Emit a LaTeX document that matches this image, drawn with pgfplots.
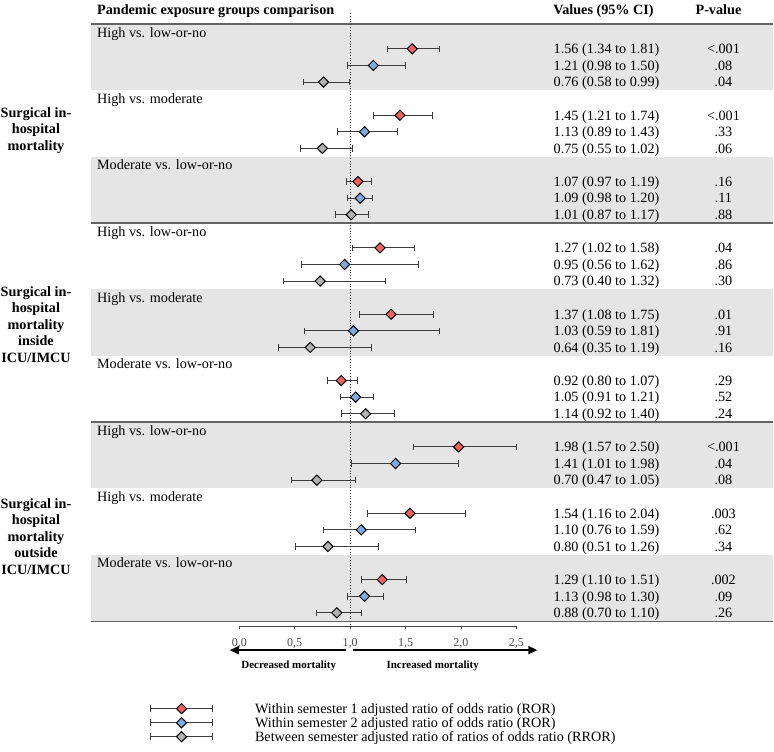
\documentclass[border=0pt]{standalone}
\usepackage{pgfplots}
\pgfplotsset{compat=1.18}
\usepackage{pgfplotstable}
\usepackage{fontspec}
\setmainfont{Liberation Serif}
\usetikzlibrary{arrows.meta}

\definecolor{bandgray}{RGB}{229,229,229}
\definecolor{rorred}{RGB}{238,98,98}
\definecolor{rorblue}{RGB}{125,172,222}
\definecolor{rrorgray}{RGB}{178,178,178}
\definecolor{whisker}{RGB}{60,60,60}
\definecolor{sepline}{RGB}{100,100,100}

% y = -(row number), rows of 16.6bp; lo/hi = 95% CI
\pgfplotstableread{
x    y    lo   hi
1.56 -1   1.34 1.81
1.45 -5   1.21 1.74
1.07 -9   0.97 1.19
1.27 -13  1.02 1.58
1.37 -17  1.08 1.75
0.92 -21  0.80 1.07
1.98 -25  1.57 2.50
1.54 -29  1.16 2.04
1.29 -33  1.10 1.51
-0.521 -40.78 -0.801 -0.242
}\semone
\pgfplotstableread{
x    y    lo   hi
1.21 -2   0.98 1.50
1.13 -6   0.89 1.43
1.09 -10  0.98 1.20
0.95 -14  0.56 1.62
1.03 -18  0.59 1.81
1.05 -22  0.91 1.21
1.41 -26  1.01 1.98
1.10 -30  0.76 1.59
1.13 -34  0.98 1.30
-0.521 -41.63 -0.801 -0.242
}\semtwo
\pgfplotstableread{
x    y    lo   hi
0.76 -3   0.58 0.99
0.75 -7   0.55 1.02
1.01 -11  0.87 1.17
0.73 -15  0.40 1.32
0.64 -19  0.35 1.19
1.14 -23  0.92 1.40
0.70 -27  0.47 1.05
0.80 -31  0.51 1.26
0.88 -35  0.70 1.10
-0.521 -42.47 -0.801 -0.242
}\between

\tikzset{
  txt/.style={font=\fontsize{14.2bp}{16.5bp}\selectfont, inner sep=0pt, anchor=base, yshift=-4.8bp},
  lab/.style={txt, anchor=base west},
  hdr/.style={txt, font=\fontsize{14.2bp}{16.5bp}\selectfont\bfseries},
  sec/.style={font=\fontsize{14.2bp}{16.5bp}\selectfont\bfseries, align=center, inner sep=0pt},
}
\newcommand{\vrow}[3]{%
  \node[txt] at (axis cs:3.314,-#1) {#2};
  \node[txt] at (axis cs:4.369,-#1) {#3};}

\pgfplotsset{
  forest/.style={only marks, mark=square*, mark size=3.6bp,
    mark options={rotate=45, draw=black, line width=1bp, fill=#1},
    error bars/.cd, x dir=both, x explicit, error mark=|,
    error bar style={whisker, line width=0.9bp},
    error mark options={whisker, line width=0.9bp, mark size=3.3bp}},
}

\begin{document}
\begin{tikzpicture}
\begin{axis}[
  width=277.25bp, height=626.75bp, scale only axis,
  xmin=0, xmax=2.5, ymin=-35.81, ymax=1.946,
  clip=false,
  axis x line*=bottom, axis y line=none,
  x axis line style={-, black!75, line width=0.8bp},
  xtick={0,0.5,1,1.5,2,2.5},
  tick align=outside, major tick length=3bp,
  xtick style={black!75, line width=0.8bp},
  xticklabel style={font=\fontsize{12bp}{12bp}\selectfont, text=black!70, yshift=-6bp},
  /pgf/number format/fixed, /pgf/number format/fixed zerofill,
  /pgf/number format/precision=1, /pgf/number format/use comma,
  /pgf/number format/assume math mode=true,
]
% picture frame
\path (axis cs:-2.1596,1.946) rectangle (axis cs:4.8197,-43.355);

% shaded groups
\addplot[fill=bandgray, draw=none] coordinates {(-1.339,0.5) (4.82,0.5) (4.82,-3.5) (-1.339,-3.5)};
\addplot[fill=bandgray, draw=none] coordinates {(-1.339,-7.5) (4.82,-7.5) (4.82,-11.5) (-1.339,-11.5)};
\addplot[fill=bandgray, draw=none] coordinates {(-1.339,-15.5) (4.82,-15.5) (4.82,-19.5) (-1.339,-19.5)};
\addplot[fill=bandgray, draw=none] coordinates {(-1.339,-23.5) (4.82,-23.5) (4.82,-27.5) (-1.339,-27.5)};
\addplot[fill=bandgray, draw=none] coordinates {(-1.339,-31.5) (4.82,-31.5) (4.82,-35.5) (-1.339,-35.5)};

% section rules
\addplot[sepline, line width=1.2bp] coordinates {(-1.339,0.5) (4.82,0.5)};
\addplot[sepline, line width=1.2bp] coordinates {(-1.339,-11.5) (4.82,-11.5)};
\addplot[sepline, line width=1.2bp] coordinates {(-1.339,-23.5) (4.82,-23.5)};
\addplot[sepline, line width=1.2bp] coordinates {(-1.339,-35.5) (4.82,-35.5)};

% line of no effect
\addplot[black!80, dotted, line width=0.8bp] coordinates {(1,1.163) (1,-35.81)};

% estimates
\addplot[forest=rorred] table[x=x, y=y, x error plus expr=\thisrow{hi}-\thisrow{x}, x error minus expr=\thisrow{x}-\thisrow{lo}] {\semone};
\addplot[forest=rorblue] table[x=x, y=y, x error plus expr=\thisrow{hi}-\thisrow{x}, x error minus expr=\thisrow{x}-\thisrow{lo}] {\semtwo};
\addplot[forest=rrorgray] table[x=x, y=y, x error plus expr=\thisrow{hi}-\thisrow{x}, x error minus expr=\thisrow{x}-\thisrow{lo}] {\between};

% direction arrows
\addplot[black, line width=1.5bp, -{Triangle[length=9bp, width=8bp]}] coordinates {(0.96,-37.25) (-0.086,-37.25)};
\addplot[black, line width=1.5bp, -{Triangle[length=9bp, width=8bp]}] coordinates {(1.025,-37.25) (2.69,-37.25)};
\node[font=\fontsize{11bp}{11bp}\selectfont\bfseries] at (axis cs:0.446,-38.22) {Decreased mortality};
\node[font=\fontsize{11bp}{11bp}\selectfont\bfseries] at (axis cs:1.745,-38.22) {Increased mortality};

% headers
\node[hdr, anchor=base west] at (axis cs:-1.285,1.343) {Pandemic exposure groups comparison};
\node[hdr] at (axis cs:3.287,1.343) {Values (95\% CI)};
\node[hdr] at (axis cs:4.324,1.343) {P-value};

% section labels
\node[sec] at (axis cs:-1.835,-5.9) {Surgical in-\\hospital\\mortality};
\node[sec] at (axis cs:-1.835,-17.6) {Surgical in-\\hospital\\mortality\\inside\\ICU/IMCU};
\node[sec] at (axis cs:-1.835,-30.4) {Surgical in-\\hospital\\mortality\\outside\\ICU/IMCU};

% group labels
\node[lab] at (axis cs:-1.285,0) {High vs. low-or-no};
\node[lab] at (axis cs:-1.285,-4) {High vs. moderate};
\node[lab] at (axis cs:-1.285,-8) {Moderate vs. low-or-no};
\node[lab] at (axis cs:-1.285,-12) {High vs. low-or-no};
\node[lab] at (axis cs:-1.285,-16) {High vs. moderate};
\node[lab] at (axis cs:-1.285,-20) {Moderate vs. low-or-no};
\node[lab] at (axis cs:-1.285,-24) {High vs. low-or-no};
\node[lab] at (axis cs:-1.285,-28) {High vs. moderate};
\node[lab] at (axis cs:-1.285,-32) {Moderate vs. low-or-no};

% values and p-values
\vrow{1}{1.56 (1.34 to 1.81)}{<.001}
\vrow{2}{1.21 (0.98 to 1.50)}{.08}
\vrow{3}{0.76 (0.58 to 0.99)}{.04}
\vrow{5}{1.45 (1.21 to 1.74)}{<.001}
\vrow{6}{1.13 (0.89 to 1.43)}{.33}
\vrow{7}{0.75 (0.55 to 1.02)}{.06}
\vrow{9}{1.07 (0.97 to 1.19)}{.16}
\vrow{10}{1.09 (0.98 to 1.20)}{.11}
\vrow{11}{1.01 (0.87 to 1.17)}{.88}
\vrow{13}{1.27 (1.02 to 1.58)}{.04}
\vrow{14}{0.95 (0.56 to 1.62)}{.86}
\vrow{15}{0.73 (0.40 to 1.32)}{.30}
\vrow{17}{1.37 (1.08 to 1.75)}{.01}
\vrow{18}{1.03 (0.59 to 1.81)}{.91}
\vrow{19}{0.64 (0.35 to 1.19)}{.16}
\vrow{21}{0.92 (0.80 to 1.07)}{.29}
\vrow{22}{1.05 (0.91 to 1.21)}{.52}
\vrow{23}{1.14 (0.92 to 1.40)}{.24}
\vrow{25}{1.98 (1.57 to 2.50)}{<.001}
\vrow{26}{1.41 (1.01 to 1.98)}{.04}
\vrow{27}{0.70 (0.47 to 1.05)}{.08}
\vrow{29}{1.54 (1.16 to 2.04)}{.003}
\vrow{30}{1.10 (0.76 to 1.59)}{.62}
\vrow{31}{0.80 (0.51 to 1.26)}{.34}
\vrow{33}{1.29 (1.10 to 1.51)}{.002}
\vrow{34}{1.13 (0.98 to 1.30)}{.09}
\vrow{35}{0.88 (0.70 to 1.10)}{.26}

% legend text
\node[lab] at (axis cs:0.14,-40.78) {Within semester 1 adjusted ratio of odds ratio (ROR)};
\node[lab] at (axis cs:0.14,-41.63) {Within semester 2 adjusted ratio of odds ratio (ROR)};
\node[lab] at (axis cs:0.14,-42.47) {Between semester adjusted ratio of ratios of odds ratio (RROR)};
\end{axis}
\end{tikzpicture}
\end{document}
